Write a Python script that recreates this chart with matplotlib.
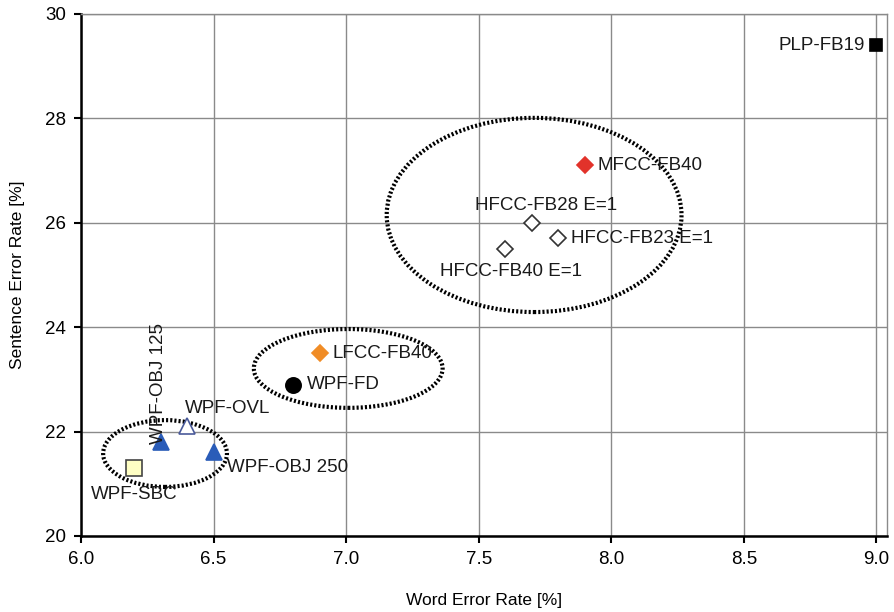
import matplotlib
matplotlib.use("Agg")
import matplotlib.pyplot as plt
from matplotlib.patches import Ellipse

plt.rcParams['font.family'] = ['Liberation Sans', 'DejaVu Sans']

# Feature sets: word error rate vs sentence error rate
names = ["PLP-FB19", "MFCC-FB40", "HFCC-FB28 E=1", "HFCC-FB23 E=1", "HFCC-FB40 E=1",
         "LFCC-FB40", "WPF-FD", "WPF-OVL", "WPF-OBJ 125", "WPF-OBJ 250", "WPF-SBC"]
wer = [9.0, 7.9, 7.7, 7.8, 7.6, 6.9, 6.8, 6.4, 6.3, 6.5, 6.2]
ser = [29.4, 27.1, 26.0, 25.7, 25.5, 23.5, 22.9, 22.1, 21.8, 21.6, 21.3]

x_ticks = [6.0, 6.5, 7.0, 7.5, 8.0, 8.5, 9.0]
y_ticks = [20, 22, 24, 26, 28, 30]

# marker, face, edge, size
styles = {
    "PLP-FB19": ("s", "black", "black", 8),
    "MFCC-FB40": ("D", "#e2322a", "#e2322a", 8),
    "HFCC-FB28 E=1": ("D", "white", "#333333", 8),
    "HFCC-FB23 E=1": ("D", "white", "#333333", 8),
    "HFCC-FB40 E=1": ("D", "white", "#333333", 8),
    "LFCC-FB40": ("D", "#f08c26", "#f08c26", 8),
    "WPF-FD": ("o", "black", "black", 11),
    "WPF-OVL": ("^", "white", "#4a5a9a", 11),
    "WPF-OBJ 125": ("^", "#2a5cb8", "#2a5cb8", 12),
    "WPF-OBJ 250": ("^", "#2a5cb8", "#2a5cb8", 12),
    "WPF-SBC": ("s", "#ffffc4", "#444444", 11),
}

# label offsets in pixels, alignment, rotation
label_pos = {
    "PLP-FB19": ((-12, 0), "right", "center", 0),
    "MFCC-FB40": ((13, 0), "left", "center", 0),
    "HFCC-FB28 E=1": ((14, 17), "center", "center", 0),
    "HFCC-FB23 E=1": ((13, 0), "left", "center", 0),
    "HFCC-FB40 E=1": ((6, -23), "center", "center", 0),
    "LFCC-FB40": ((13, 0), "left", "center", 0),
    "WPF-FD": ((14, 0), "left", "center", 0),
    "WPF-OVL": ((41, 18), "center", "center", 0),
    "WPF-OBJ 125": ((-2, -2), "center", "bottom", 90),
    "WPF-OBJ 250": ((13, -15), "left", "center", 0),
    "WPF-SBC": ((0, -26), "center", "center", 0),
}

# Groupings: (center x, center y, width, height)
groups = [
    (7.709, 26.15, 1.112, 3.72),
    (7.008, 23.21, 0.712, 1.51),
    (6.317, 21.58, 0.467, 1.28),
]

fig = plt.figure(figsize=(8.94, 6.12), dpi=100)
ax = fig.add_axes([81 / 894, 76 / 612, 806 / 894, 522 / 612])

ax.set_xlim(6.0, 9.04)
ax.set_ylim(20, 30)
ax.set_xticks(x_ticks)
ax.set_xticklabels([f"{t:.1f}" for t in x_ticks])
ax.set_yticks(y_ticks)
ax.grid(True, color="#8a8a8a", linewidth=1.0)
ax.set_axisbelow(True)

for side in ("top", "right"):
    ax.spines[side].set_color("#8a8a8a")
    ax.spines[side].set_linewidth(1.0)
for side in ("left", "bottom"):
    ax.spines[side].set_color("black")
    ax.spines[side].set_linewidth(1.8)

ax.tick_params(axis="both", direction="out", length=5, width=1.5,
               labelsize=13.5, colors="black", pad=6)

for cx, cy, w, h in groups:
    ax.add_patch(Ellipse((cx, cy), w, h, fill=False, edgecolor="black",
                         linewidth=3.0, linestyle=(0, (0.5, 0.5)), zorder=2))

for n, x, y in zip(names, wer, ser):
    m, fc, ec, s = styles[n]
    ax.plot([x], [y], marker=m, markersize=s, markerfacecolor=fc,
            markeredgecolor=ec, markeredgewidth=1.2, linestyle="none",
            zorder=4, clip_on=False)
    (dx, dy), ha, va, rot = label_pos[n]
    ax.annotate(n, (x, y), xytext=(dx, dy), textcoords="offset pixels",
                ha=ha, va=va, rotation=rot, fontsize=13.5, color="#1a1a1a",
                zorder=5)

ax.set_xlabel("Word Error Rate [%]", fontsize=12.5, labelpad=18)
ax.set_ylabel("Sentence Error Rate [%]", fontsize=12.5, labelpad=14)

fig.savefig("out.png", dpi=100)
